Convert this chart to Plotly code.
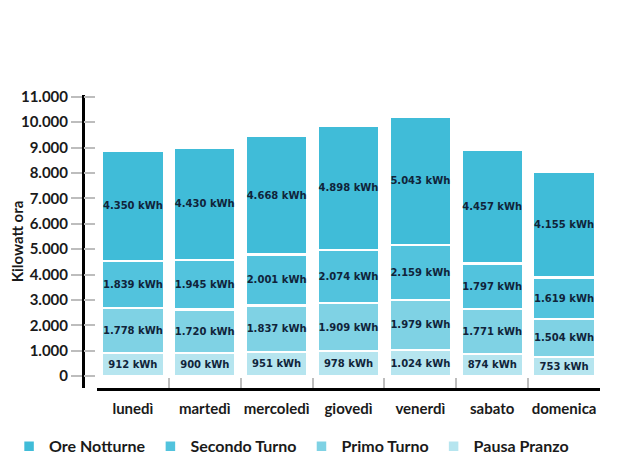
import plotly.graph_objects as go

### Consumi settimanali per fascia oraria ###

giorni = ["lunedì", "martedì", "mercoledì", "giovedì", "venerdì", "sabato", "domenica"]

pausa_pranzo = [912, 900, 951, 978, 1024, 874, 753]
primo_turno = [1778, 1720, 1837, 1909, 1979, 1771, 1504]
secondo_turno = [1839, 1945, 2001, 2074, 2159, 1797, 1619]
ore_notturne = [4350, 4430, 4668, 4898, 5043, 4457, 4155]

y_ticks = [0, 1000, 2000, 3000, 4000, 5000, 6000, 7000, 8000, 9000, 10000, 11000]

serie = [
    ("Pausa Pranzo", pausa_pranzo, "#b6e5ef"),
    ("Primo Turno", primo_turno, "#7fd2e4"),
    ("Secondo Turno", secondo_turno, "#52c3dd"),
    ("Ore Notturne", ore_notturne, "#40bcd8"),
]

fig = go.Figure()

for nome, valori, colore in serie:
    fig.add_trace(go.Bar(
        x=giorni, y=valori, name=nome,
        marker=dict(color=colore, line=dict(color="white", width=2.5)),
        texttemplate="%{y:,} kWh",
        textposition="inside",
        textangle=0,
        insidetextanchor="middle",
        textfont=dict(family="DejaVu Sans", size=10, color="#10243a", weight="bold"),
    ))

# asse y secondario solo per i tick interni
fig.add_trace(go.Scatter(x=[giorni[0]], y=[0], yaxis="y2", mode="markers",
                         marker=dict(opacity=0), showlegend=False, hoverinfo="skip"))

y_range = [-470, 11070]

# la pagina ha 8px di margine nel body: figura un po' più piccola
fig.update_layout(
    barmode="stack",
    bargap=0.14,
    separators=",.",
    width=626, height=460,
    margin=dict(l=75, r=34, t=87, b=80, autoexpand=False),
    plot_bgcolor="white",
    paper_bgcolor="white",
    font=dict(family="Lato", size=15, color="#1a1a1a", weight="bold"),
    uniformtext=dict(minsize=10, mode="show"),
    xaxis=dict(
        domain=[0.027, 1],
        automargin=False,
        showline=True, linecolor="black", linewidth=3,
        ticks="inside", tickson="boundaries", ticklen=10, tickwidth=1.5, tickcolor="#bdbdbd",
        tickangle=0,
        ticklabelstandoff=5,
        tickfont=dict(size=15, color="#1a1a1a", weight="bold"),
    ),
    yaxis=dict(
        anchor="free", position=0,
        automargin=False,
        range=y_range, tickvals=y_ticks, tickformat=",d",
        showline=True, linecolor="black", linewidth=3,
        ticks="outside", ticklen=11, tickwidth=1.5, tickcolor="#bdbdbd",
        showgrid=False, zeroline=False,
        tickfont=dict(size=15, color="#1a1a1a", weight="bold"),
        title=dict(text="Kilowatt ora", font=dict(size=15, weight="bold"), standoff=1),
    ),
    yaxis2=dict(
        anchor="free", position=0, overlaying="y",
        automargin=False,
        range=y_range, tickvals=y_ticks, showticklabels=False,
        ticks="inside", ticklen=11, tickwidth=1.5, tickcolor="#bdbdbd",
        showgrid=False, zeroline=False, showline=False,
    ),
    legend=dict(
        orientation="h", traceorder="reversed",
        x=-0.143, xanchor="left", y=-0.141, yanchor="top",
        font=dict(size=16, color="#1a1a1a", weight="bold"),
    ),
)

fig.write_html("out.html")
